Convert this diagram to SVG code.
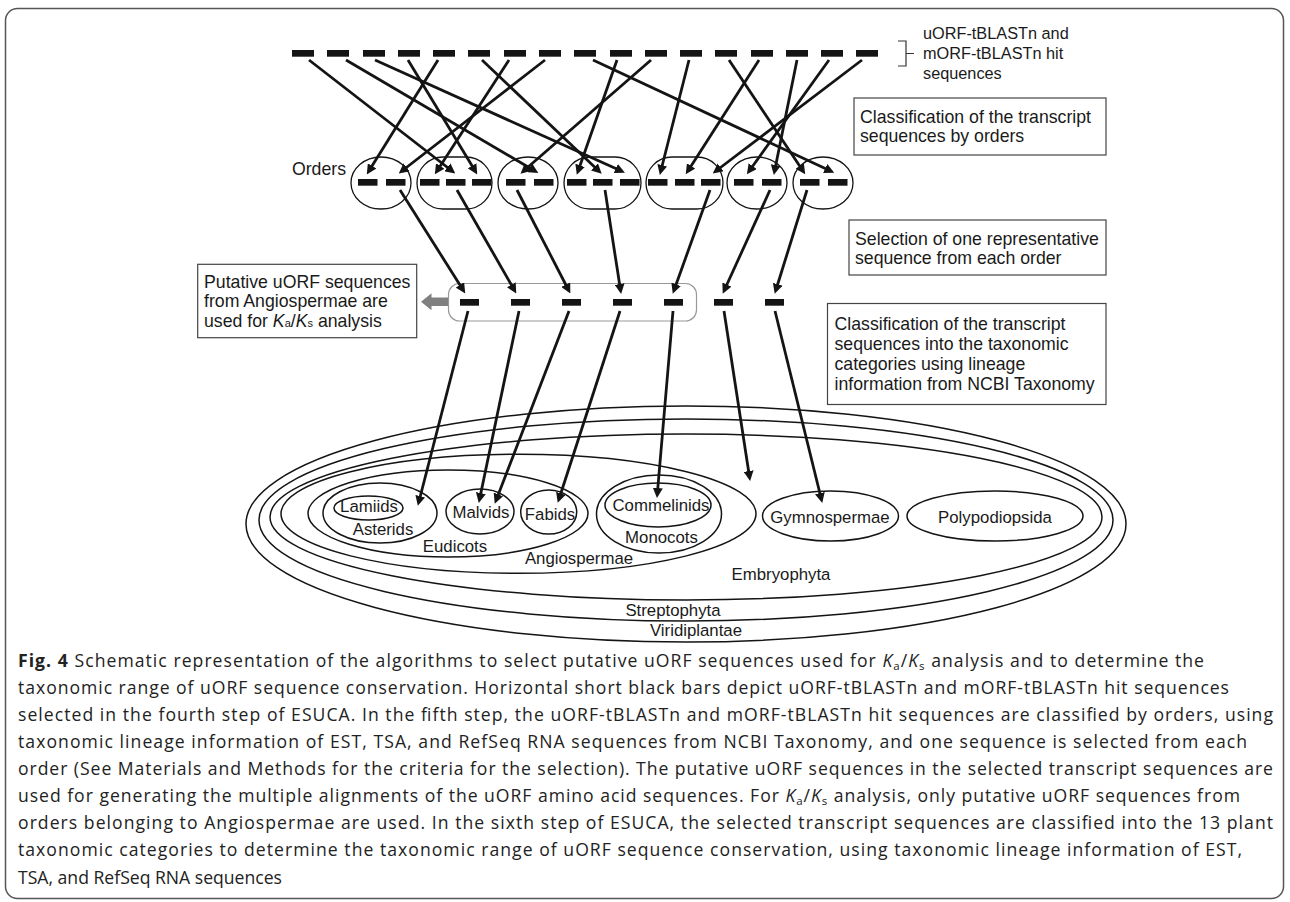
<svg xmlns="http://www.w3.org/2000/svg" width="1290" height="902" viewBox="0 0 1290 902">
<defs>
<style>
.bar{fill:#141414}
.arr{stroke:#141414;stroke-width:2.8;fill:none;marker-end:url(#ah)}
.ell{fill:none;stroke:#141414;stroke-width:1.5}
.box{fill:#fff;stroke:#444;stroke-width:1.2}
.t{font-family:"Liberation Sans",Arial,sans-serif;font-size:17.7px;fill:#1a1a1a}
.tl{font-family:"Liberation Sans",Arial,sans-serif;font-size:16.8px;fill:#1a1a1a;text-anchor:middle}
.cap{font-family:"Open Sans",sans-serif;font-size:17.6px;fill:#222}
</style>
<marker id="ah" markerWidth="10" markerHeight="10" refX="6" refY="5" orient="auto" markerUnits="userSpaceOnUse"><path d="M0,0 L10,5 L0,10 z" fill="#141414"/></marker>
</defs>
<rect x="5.5" y="8.5" width="1278" height="890" rx="12" fill="none" stroke="#555" stroke-width="1.5"/>

<g id="hits">
<rect class="bar" x="292" y="50" width="22" height="6.7"/>
<rect class="bar" x="327" y="50" width="22" height="6.7"/>
<rect class="bar" x="363" y="50" width="22" height="6.7"/>
<rect class="bar" x="398" y="50" width="22" height="6.7"/>
<rect class="bar" x="433" y="50" width="22" height="6.7"/>
<rect class="bar" x="468" y="50" width="22" height="6.7"/>
<rect class="bar" x="504" y="50" width="22" height="6.7"/>
<rect class="bar" x="539" y="50" width="22" height="6.7"/>
<rect class="bar" x="574" y="50" width="22" height="6.7"/>
<rect class="bar" x="610" y="50" width="22" height="6.7"/>
<rect class="bar" x="645" y="50" width="22" height="6.7"/>
<rect class="bar" x="680" y="50" width="22" height="6.7"/>
<rect class="bar" x="715" y="50" width="22" height="6.7"/>
<rect class="bar" x="751" y="50" width="22" height="6.7"/>
<rect class="bar" x="786" y="50" width="22" height="6.7"/>
<rect class="bar" x="821" y="50" width="22" height="6.7"/>
<rect class="bar" x="856" y="50" width="22" height="6.7"/>
</g>

<g id="hits-label">
<path d="M898,41 H906 V66 H898 M906,53.5 H914" fill="none" stroke="#333" stroke-width="1.2"/>
<text class="t" style="font-size:16.3px" x="923" y="39">uORF-tBLASTn and</text>
<text class="t" style="font-size:16.3px" x="923" y="59">mORF-tBLASTn hit</text>
<text class="t" style="font-size:16.3px" x="923" y="79">sequences</text>
</g>

<g id="box-orders">
<rect class="box" x="854" y="98" width="252" height="57"/>
<text class="t" x="860" y="122.5">Classification of the transcript</text>
<text class="t" x="860" y="142">sequences by orders</text>
</g>

<g id="orders">
<text class="t" x="346" y="175" text-anchor="end">Orders</text>
<ellipse class="ell" style="stroke-width:1.3" cx="381" cy="183" rx="30" ry="26"/>
<rect class="ell" style="stroke-width:1.3" x="417" y="157" width="75" height="52" rx="26"/>
<ellipse class="ell" style="stroke-width:1.3" cx="528" cy="183" rx="30" ry="26"/>
<rect class="ell" style="stroke-width:1.3" x="564" y="157" width="77" height="52" rx="26"/>
<rect class="ell" style="stroke-width:1.3" x="646" y="157" width="77" height="52" rx="26"/>
<ellipse class="ell" style="stroke-width:1.3" cx="757" cy="183" rx="30" ry="26"/>
<ellipse class="ell" style="stroke-width:1.3" cx="823" cy="183" rx="30" ry="26"/>
<rect class="bar" x="358" y="179" width="19.5" height="6.7"/>
<rect class="bar" x="386" y="179" width="19.5" height="6.7"/>
<rect class="bar" x="420" y="179" width="19.5" height="6.7"/>
<rect class="bar" x="446" y="179" width="19.5" height="6.7"/>
<rect class="bar" x="472" y="179" width="19.5" height="6.7"/>
<rect class="bar" x="506" y="179" width="19.5" height="6.7"/>
<rect class="bar" x="534" y="179" width="19.5" height="6.7"/>
<rect class="bar" x="567" y="179" width="19.5" height="6.7"/>
<rect class="bar" x="593" y="179" width="19.5" height="6.7"/>
<rect class="bar" x="620" y="179" width="19.5" height="6.7"/>
<rect class="bar" x="648" y="179" width="19.5" height="6.7"/>
<rect class="bar" x="675" y="179" width="19.5" height="6.7"/>
<rect class="bar" x="701" y="179" width="19.5" height="6.7"/>
<rect class="bar" x="734" y="179" width="19.5" height="6.7"/>
<rect class="bar" x="762" y="179" width="19.5" height="6.7"/>
<rect class="bar" x="800" y="179" width="19.5" height="6.7"/>
<rect class="bar" x="828" y="179" width="19.5" height="6.7"/>
</g>

<g id="box-select">
<rect class="box" x="849" y="220" width="257" height="55"/>
<text class="t" x="855" y="244.5">Selection of one representative</text>
<text class="t" x="855" y="263.5">sequence from each order</text>
</g>

<g id="selected">
<rect x="448.5" y="283.5" width="248" height="37.5" rx="11" fill="none" stroke="#999" stroke-width="1.2"/>
<path d="M448,297.5 H431.5 V293.3 L421,301.8 L431.5,310.3 V306 H448 z" fill="#808080"/>
<rect class="bar" x="460" y="299" width="19" height="6.7"/>
<rect class="bar" x="511" y="299" width="19" height="6.7"/>
<rect class="bar" x="562" y="299" width="19" height="6.7"/>
<rect class="bar" x="613" y="299" width="19" height="6.7"/>
<rect class="bar" x="664" y="299" width="19" height="6.7"/>
<rect class="bar" x="714" y="299" width="19" height="6.7"/>
<rect class="bar" x="765" y="299" width="19" height="6.7"/>
</g>

<g id="box-kaks">
<rect class="box" x="197.7" y="264.3" width="219" height="73.4"/>
<text class="t" x="204" y="287.7">Putative uORF sequences</text>
<text class="t" x="204" y="307.3">from Angiospermae are</text>
<text class="t" x="204" y="327.3">used for <tspan font-style="italic">K</tspan><tspan font-size="11">a</tspan>/<tspan font-style="italic">K</tspan><tspan font-size="11">s</tspan> analysis</text>
</g>

<g id="box-taxonomy">
<rect class="box" x="827.5" y="303.5" width="278.5" height="101"/>
<text class="t" x="834.5" y="330">Classification of the transcript</text>
<text class="t" x="834.5" y="350">sequences into the taxonomic</text>
<text class="t" x="834.5" y="370">categories using lineage</text>
<text class="t" x="834.5" y="390">information from NCBI Taxonomy</text>
</g>

<g id="viridiplantae">
<ellipse class="ell" cx="686" cy="524" rx="440" ry="118"/>
<text class="tl" x="696" y="636">Viridiplantae</text>
</g>
<g id="streptophyta">
<ellipse class="ell" cx="686" cy="520" rx="427" ry="101"/>
<text class="tl" x="673" y="616">Streptophyta</text>
</g>
<g id="embryophyta">
<ellipse class="ell" cx="686" cy="517" rx="416" ry="83"/>
<text class="tl" x="781" y="579.5">Embryophyta</text>
</g>
<g id="angiospermae">
<ellipse class="ell" cx="518.5" cy="513.8" rx="237.5" ry="59.5"/>
<text class="tl" x="579" y="564">Angiospermae</text>
</g>
<g id="eudicots">
<ellipse class="ell" cx="448" cy="513.5" rx="140" ry="43.5"/>
<text class="tl" x="455" y="552">Eudicots</text>
</g>
<g id="asterids">
<ellipse class="ell" cx="380" cy="513" rx="57" ry="30"/>
<text class="tl" x="383" y="535">Asterids</text>
</g>
<g id="lamiids">
<ellipse class="ell" cx="368.5" cy="508" rx="34.5" ry="12"/>
<text class="tl" x="369" y="512">Lamiids</text>
</g>
<g id="malvids">
<ellipse class="ell" cx="480" cy="511.5" rx="34" ry="22.5"/>
<text class="tl" x="481" y="518">Malvids</text>
</g>
<g id="fabids">
<ellipse class="ell" cx="548.7" cy="512" rx="28" ry="22"/>
<text class="tl" x="550" y="519.5">Fabids</text>
</g>
<g id="monocots">
<ellipse class="ell" cx="659" cy="514" rx="62.5" ry="39"/>
<text class="tl" x="661.5" y="542.7">Monocots</text>
</g>
<g id="commelinids">
<ellipse class="ell" cx="658" cy="505" rx="53" ry="22"/>
<text class="tl" x="661" y="510.7">Commelinids</text>
</g>
<g id="gymnospermae">
<ellipse class="ell" cx="830.5" cy="516" rx="68" ry="25"/>
<text class="tl" x="830" y="522.5">Gymnospermae</text>
</g>
<g id="polypodiopsida">
<ellipse class="ell" cx="995" cy="516" rx="88" ry="25"/>
<text class="tl" x="995" y="522.5">Polypodiopsida</text>
</g>

<g id="connectors">
<line class="arr" x1="309" y1="60" x2="452.1" y2="171"/>
<line class="arr" x1="346" y1="60" x2="534.9" y2="171"/>
<line class="arr" x1="375" y1="60" x2="621.3" y2="171"/>
<line class="arr" x1="408" y1="60" x2="475.2" y2="171"/>
<line class="arr" x1="438" y1="60" x2="368.9" y2="171"/>
<line class="arr" x1="482" y1="60" x2="598.8" y2="171"/>
<line class="arr" x1="509" y1="60" x2="437" y2="171"/>
<line class="arr" x1="545" y1="60" x2="401.9" y2="171"/>
<line class="arr" x1="593" y1="60" x2="830.6" y2="171"/>
<line class="arr" x1="617" y1="60" x2="578.1" y2="171"/>
<line class="arr" x1="651" y1="60" x2="523.5" y2="171"/>
<line class="arr" x1="689" y1="60" x2="660.8" y2="171"/>
<line class="arr" x1="729" y1="60" x2="803" y2="171"/>
<line class="arr" x1="759" y1="60" x2="687.9" y2="171"/>
<line class="arr" x1="797" y1="60" x2="774.6" y2="171"/>
<line class="arr" x1="829" y1="60" x2="749.2" y2="171"/>
<line class="arr" x1="862" y1="60" x2="715.9" y2="171"/>
<line class="arr" x1="400" y1="190" x2="463.1" y2="290"/>
<line class="arr" x1="457" y1="190" x2="514.3" y2="290"/>
<line class="arr" x1="517" y1="190" x2="568.5" y2="290"/>
<line class="arr" x1="605" y1="190" x2="620.5" y2="290"/>
<line class="arr" x1="710" y1="190" x2="674.1" y2="290"/>
<line class="arr" x1="770" y1="190" x2="724.4" y2="290"/>
<line class="arr" x1="807" y1="190" x2="775.9" y2="290"/>
<line class="arr" x1="468" y1="311" x2="418.8" y2="502"/>
<line class="arr" x1="519" y1="311" x2="479.6" y2="499"/>
<line class="arr" x1="569" y1="311" x2="496.2" y2="500"/>
<line class="arr" x1="620" y1="311" x2="559" y2="499"/>
<line class="arr" x1="673" y1="311" x2="657.3" y2="494"/>
<line class="arr" x1="724" y1="311" x2="749.5" y2="477"/>
<line class="arr" x1="775" y1="311" x2="821.3" y2="499"/>
</g>

<g id="caption" class="cap">
<text x="18" y="666.7" textLength="1186" lengthAdjust="spacing"><tspan font-weight="bold">Fig. 4</tspan> Schematic representation of the algorithms to select putative uORF sequences used for <tspan font-style="italic">K</tspan><tspan font-size="11.5" dy="3">a</tspan><tspan dy="-3">/</tspan><tspan font-style="italic">K</tspan><tspan font-size="11.5" dy="3">s</tspan><tspan dy="-3"> analysis and to determine the</tspan></text>
<text x="18" y="693.8" textLength="1211" lengthAdjust="spacing">taxonomic range of uORF sequence conservation. Horizontal short black bars depict uORF-tBLASTn and mORF-tBLASTn hit sequences</text>
<text x="18" y="720.9" textLength="1255" lengthAdjust="spacing">selected in the fourth step of ESUCA. In the fifth step, the uORF-tBLASTn and mORF-tBLASTn hit sequences are classified by orders, using</text>
<text x="18" y="748" textLength="1229" lengthAdjust="spacing">taxonomic lineage information of EST, TSA, and RefSeq RNA sequences from NCBI Taxonomy, and one sequence is selected from each</text>
<text x="18" y="775.1" textLength="1255" lengthAdjust="spacing">order (See Materials and Methods for the criteria for the selection). The putative uORF sequences in the selected transcript sequences are</text>
<text x="18" y="802.2" textLength="1222" lengthAdjust="spacing">used for generating the multiple alignments of the uORF amino acid sequences. For <tspan font-style="italic">K</tspan><tspan font-size="11.5" dy="3">a</tspan><tspan dy="-3">/</tspan><tspan font-style="italic">K</tspan><tspan font-size="11.5" dy="3">s</tspan><tspan dy="-3"> analysis, only putative uORF sequences from</tspan></text>
<text x="18" y="829.3" textLength="1255" lengthAdjust="spacing">orders belonging to Angiospermae are used. In the sixth step of ESUCA, the selected transcript sequences are classified into the 13 plant</text>
<text x="18" y="856.4" textLength="1224" lengthAdjust="spacing">taxonomic categories to determine the taxonomic range of uORF sequence conservation, using taxonomic lineage information of EST,</text>
<text x="18" y="883.5">TSA, and RefSeq RNA sequences</text>
</g>
</svg>
